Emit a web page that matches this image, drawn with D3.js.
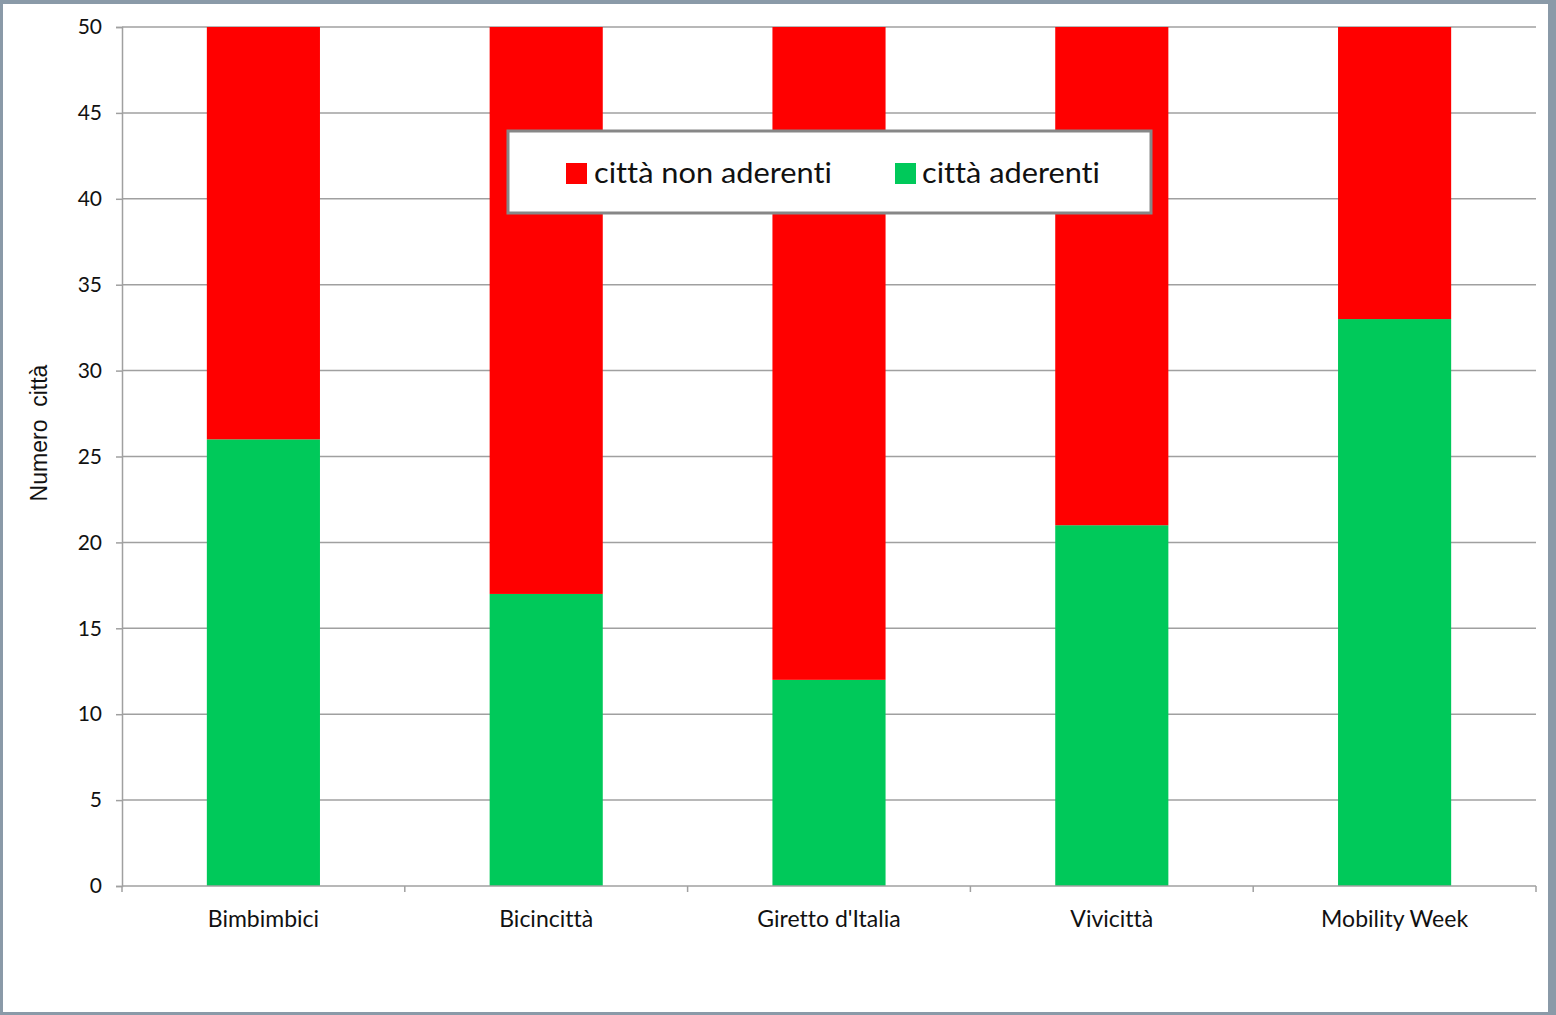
<!DOCTYPE html>
<html>
<head>
<meta charset="utf-8">
<script src="https://cdn.jsdelivr.net/npm/d3@7"></script>
<style>
html,body{margin:0;padding:0;background:#fff;}
svg{display:block;}
text{font-variant-ligatures:none;font-feature-settings:"liga" 0;}
</style>
</head>
<body>
<svg id="chart" width="1556" height="1015"></svg>
<script>
const categories = ["Bimbimbici", "Bicincittà", "Giretto d'Italia", "Vivicittà", "Mobility Week"];
const aderenti = [26, 17, 12, 21, 33];
const nonAderenti = [24, 33, 38, 29, 17];
const seriesNames = ["città non aderenti", "città aderenti"];
const yTicks = [0, 5, 10, 15, 20, 25, 30, 35, 40, 45, 50];
const colors = {aderenti: "#00c95a", non: "#ff0000"};

const svg = d3.select("#chart");
const W = 1556, H = 1015;

// outer frame
svg.append("rect").attr("x", 0).attr("y", 0).attr("width", W).attr("height", H).attr("fill", "#8a9aa8");
svg.append("rect").attr("x", 3).attr("y", 4).attr("width", 1545).attr("height", 1008).attr("fill", "#ffffff");

const m = {left: 122, right: 1536, top: 27, bottom: 886};
const x = d3.scaleBand().domain(categories).range([m.left, m.right]).paddingInner(0.6).paddingOuter(0.3);
const xb = d3.scaleBand().domain(categories).range([m.left, m.right]);
const y = d3.scaleLinear().domain([0, 50]).range([m.bottom, m.top]);

// gridlines
svg.append("g").selectAll("line").data(yTicks.filter(d => d > 0)).join("line")
  .attr("x1", m.left).attr("x2", m.right)
  .attr("y1", d => y(d)).attr("y2", d => y(d))
  .attr("stroke", "#a0a0a0").attr("stroke-width", 1.5);

// stacked data
const data = categories.map((c, i) => ({cat: c, aderenti: aderenti[i], non: nonAderenti[i]}));
const stack = d3.stack().keys(["aderenti", "non"])(data);
svg.append("g").selectAll("g").data(stack).join("g")
  .attr("fill", s => s.key === "aderenti" ? colors.aderenti : colors.non)
  .selectAll("rect").data(s => s).join("rect")
  .attr("x", d => x(d.data.cat))
  .attr("width", x.bandwidth())
  .attr("y", d => y(d[1]))
  .attr("height", d => y(d[0]) - y(d[1]));

// y axis
const yAxis = svg.append("g").attr("transform", `translate(${m.left},0)`)
  .call(d3.axisLeft(y).tickValues(yTicks).tickSize(6).tickPadding(14));
yAxis.select(".domain").attr("stroke", "#a0a0a0").attr("stroke-width", 1.5);
yAxis.selectAll(".tick line").attr("stroke", "#a0a0a0").attr("stroke-width", 1.5);
yAxis.selectAll(".tick text").attr("font-family", "Lato, 'Open Sans', sans-serif").attr("font-size", 21).attr("fill", "#111");

// x axis
const xAxisG = svg.append("g");
xAxisG.append("line").attr("x1", m.left).attr("x2", m.right).attr("y1", m.bottom).attr("y2", m.bottom)
  .attr("stroke", "#a0a0a0").attr("stroke-width", 1.5);
const bounds = categories.map(c => xb(c)).concat([m.right]);
xAxisG.selectAll("line.tk").data(bounds).join("line").attr("class", "tk")
  .attr("x1", d => d).attr("x2", d => d).attr("y1", m.bottom).attr("y2", m.bottom + 6)
  .attr("stroke", "#a0a0a0").attr("stroke-width", 1.5);
xAxisG.selectAll("text").data(categories).join("text")
  .attr("x", d => xb(d) + xb.bandwidth() / 2).attr("y", 927)
  .attr("text-anchor", "middle")
  .attr("font-family", "Lato, 'Open Sans', sans-serif").attr("font-size", 23).attr("fill", "#111")
  .text(d => d);

// y title
svg.append("text")
  .attr("transform", "translate(47,433) rotate(-90)")
  .attr("text-anchor", "middle")
  .attr("font-family", "'Liberation Sans', Arial, sans-serif").attr("font-size", 23).attr("fill", "#111")
  .attr("xml:space", "preserve").style("white-space", "pre")
  .text("Numero  città");

// legend
const lg = svg.append("g");
lg.append("rect").attr("x", 508).attr("y", 131).attr("width", 643).attr("height", 82)
  .attr("fill", "#fff").attr("stroke", "#878787").attr("stroke-width", 3);
const legendItems = [
  {name: seriesNames[0], color: colors.non, sx: 566, tx: 594, tw: 238},
  {name: seriesNames[1], color: colors.aderenti, sx: 895, tx: 922, tw: 178}
];
legendItems.forEach(it => {
  lg.append("rect").attr("x", it.sx).attr("y", 163).attr("width", 21).attr("height", 21).attr("fill", it.color);
  lg.append("text").attr("x", it.tx).attr("y", 183)
    .attr("font-family", "Lato, 'Open Sans', sans-serif").attr("font-size", 29).attr("fill", "#111")
    .attr("textLength", it.tw).attr("lengthAdjust", "spacingAndGlyphs")
    .text(it.name);
});
</script>
</body>
</html>
